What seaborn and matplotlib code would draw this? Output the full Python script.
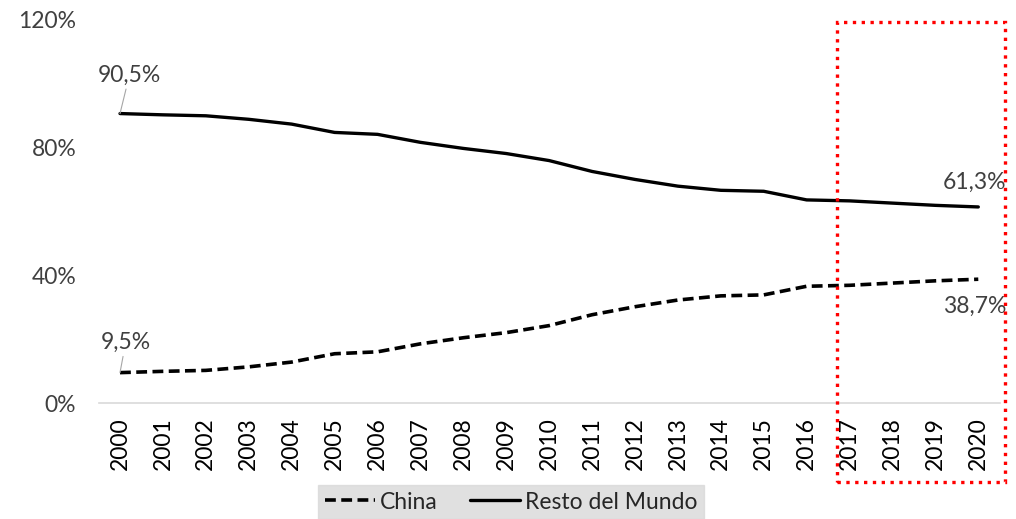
import matplotlib
matplotlib.use("Agg")
import matplotlib.pyplot as plt
import pandas as pd
import seaborn as sns
from matplotlib.patches import Rectangle

years = list(range(2000, 2021))
china = [9.5, 9.9, 10.2, 11.3, 12.8, 15.4, 16.0, 18.5, 20.4, 22.0, 24.2,
         27.6, 30.1, 32.2, 33.5, 33.8, 36.5, 36.8, 37.5, 38.2, 38.7]
resto = [90.5, 90.1, 89.8, 88.7, 87.2, 84.6, 84.0, 81.5, 79.6, 78.0, 75.8,
         72.4, 69.9, 67.8, 66.5, 66.2, 63.5, 63.2, 62.5, 61.8, 61.3]
y_ticks = [0, 40, 80, 120]
y_labels = ["0%", "40%", "80%", "120%"]

df = pd.DataFrame({"year": years, "China": china, "Resto del Mundo": resto})

sns.set_style("white")
plt.rcParams["font.family"] = ["Lato", "DejaVu Sans"]
fs = 16.5

fig = plt.figure(figsize=(10.16, 5.19), dpi=100)
ax = fig.add_axes([0.097, 0.2235, 0.887, 0.7395])

sns.lineplot(data=df, x="year", y="China", ax=ax, color="black", lw=2.6,
             label="China").lines[0].set_dashes((3, 1.5))
sns.lineplot(data=df, x="year", y="Resto del Mundo", ax=ax, color="black",
             lw=2.4, label="Resto del Mundo")

ax.set_xlim(years[0] - 0.5, years[-1] + 0.5)
ax.set_ylim(0, 120)
ax.set_xticks(years)
ax.set_xticklabels([str(y) for y in years], rotation=90, fontsize=fs, color="black")
ax.set_yticks(y_ticks)
ax.set_yticklabels(y_labels, fontsize=fs, color="#404040")
ax.tick_params(axis="x", length=0, pad=10)
ax.tick_params(axis="y", length=0, pad=16)
ax.set_xlabel("")
ax.set_ylabel("")
for side in ["top", "right", "left"]:
    ax.spines[side].set_visible(False)
ax.spines["bottom"].set_color("#d9d9d9")
ax.spines["bottom"].set_linewidth(1.2)

lbl = dict(fontsize=fs, color="#404040")
line_kw = dict(arrowstyle="-", color="#a6a6a6", lw=0.8, shrinkA=0, shrinkB=0)
ax.annotate("90,5%", xy=(years[0], resto[0]), xytext=(-16, 20), textcoords="offset points",
            ha="left", va="bottom", arrowprops=line_kw, **lbl)
ax.annotate("9,5%", xy=(years[0], china[0]), xytext=(-14, 14), textcoords="offset points",
            ha="left", va="bottom", arrowprops=line_kw, **lbl)
ax.annotate("61,3%", xy=(years[-1], resto[-1]), xytext=(20, 10), textcoords="offset points",
            ha="right", va="bottom", **lbl)
ax.annotate("38,7%", xy=(years[-1], china[-1]), xytext=(20, -12), textcoords="offset points",
            ha="right", va="top", **lbl)

ax.get_legend().remove()
handles, labels = ax.get_legend_handles_labels()
leg = fig.legend(handles, labels, loc="lower center", bbox_to_anchor=(0.503, -0.014),
                 ncol=2, frameon=True, fancybox=False, fontsize=fs,
                 handlelength=2.2, handletextpad=0.2, columnspacing=1.4,
                 borderpad=0.3, borderaxespad=0.3)
leg.get_frame().set_facecolor("#d9d9d9")
leg.get_frame().set_edgecolor("#d9d9d9")
for t in leg.get_texts():
    t.set_color("#262626")

fig.patches.append(Rectangle((0.824, 0.071), 0.165, 0.887, transform=fig.transFigure,
                             fill=False, edgecolor="red", lw=2.4, linestyle=":"))

fig.savefig("out.png", dpi=100)
